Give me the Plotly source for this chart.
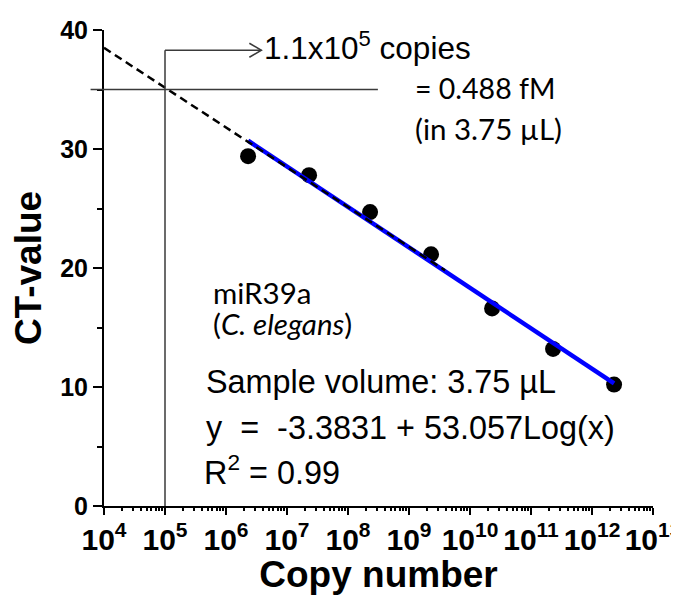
import math
import plotly.graph_objects as go

# ---- data ----
copies = [2.3e6, 2.3e7, 2.3e8, 2.3e9, 2.3e10, 2.3e11, 2.3e12]
ct_values = [29.4, 27.8, 24.7, 21.15, 16.6, 13.2, 10.2]
fit_copies = [2.3e6, 2.3e12]
fit_ct = [30.7, 10.3]
extrap_copies = [1e4, 3.9e9]
extrap_ct = [38.5, 19.8]
lod_copies = 1.0e5
lod_ct = 35.0
guide_top_ct = 38.3
arrow_tip_copies = 3.8e6
hline_copies = [10 ** 3.78, 10 ** 8.49]
y_tick_values = [0, 10, 20, 30, 40]

X_RANGE = [4, 13]
Y_RANGE = [0, 40]

PAGE = 8  # default body margin of the page
W, H = 679 - PAGE, 603 - 2 * PAGE
ML, MR, MT, MB = 96, 26, 22, 89
PW, PH = W - ML - MR, H - MT - MB


def fx(v):
    return (math.log10(v) - X_RANGE[0]) / (X_RANGE[1] - X_RANGE[0])


def fy(v):
    return (v - Y_RANGE[0]) / (Y_RANGE[1] - Y_RANGE[0])


def px(x):
    return (x - PAGE - ML) / PW


def py(y):
    return (H - MB - (y - PAGE)) / PH


fig = go.Figure()
fig.add_trace(go.Scatter(x=copies, y=ct_values, mode="markers",
                         marker=dict(color="black", size=16), showlegend=False))
fig.add_trace(go.Scatter(x=fit_copies, y=fit_ct, mode="lines",
                         line=dict(color="#0000ff", width=4.5), showlegend=False))
fig.add_trace(go.Scatter(x=extrap_copies, y=extrap_ct, mode="lines",
                         line=dict(color="black", width=2.5, dash="8px,5px"), showlegend=False))

gl = dict(color="#3a3a3a", width=1.5)
shapes = [
    dict(type="line", xref="x domain", yref="y domain",
         x0=fx(lod_copies), x1=fx(lod_copies), y0=fy(0), y1=fy(guide_top_ct), line=gl),
    dict(type="line", xref="x domain", yref="y domain",
         x0=fx(lod_copies), x1=fx(arrow_tip_copies), y0=fy(guide_top_ct), y1=fy(guide_top_ct), line=gl),
    dict(type="line", xref="x domain", yref="y domain",
         x0=fx(hline_copies[0]), x1=fx(hline_copies[1]), y0=fy(lod_ct), y1=fy(lod_ct), line=gl),
]
tipx, tipy = fx(arrow_tip_copies), fy(guide_top_ct)
dx, dy = 12 / PW, 7 / PH
shapes.append(dict(type="path", xref="x domain", yref="y domain",
                   path=f"M {tipx-dx} {tipy+dy} L {tipx} {tipy} L {tipx-dx} {tipy-dy}",
                   line=gl))

ARIAL = "Liberation Sans, Arial, sans-serif"
CAL = "Lato, Carlito, sans-serif"
texts = [
    ("1.1x10<sup>5</sup> copies", 262, 46, ARIAL, 31.5),
    ("= 0.488 fM", 413, 88, CAL, 28.5),
    ("(in 3.75 µL)", 413, 128, CAL, 29.5),
    ("miR39a", 211, 292, CAL, 29.5),
    ("(<i>C. elegans</i>)", 211, 323, CAL, 29.5),
    ("Sample volume: 3.75 µL", 204, 382, ARIAL, 32.4),
    ("y  =  -3.3831 + 53.057Log(x)", 204, 428, ARIAL, 32.4),
    ("R<sup>2</sup> = 0.99", 202, 470, ARIAL, 32.4),
]
annotations = [
    dict(text=t, x=px(x), y=py(y), xref="paper", yref="paper", xanchor="left",
         yanchor="middle", showarrow=False, font=dict(family=f, size=s, color="black"))
    for t, x, y, f, s in texts
]

fig.update_layout(
    width=W, height=H,
    margin=dict(l=ML, r=MR, t=MT, b=MB, autoexpand=False),
    paper_bgcolor="white", plot_bgcolor="white",
    shapes=shapes, annotations=annotations,
    font=dict(family=ARIAL, color="black"),
)
fig.update_xaxes(
    type="log", range=X_RANGE, dtick=1, exponentformat="power", tickangle=0,
    automargin=False, ticklabeloverflow="allow",
    showgrid=False, zeroline=False, showline=True, linecolor="black", linewidth=2,
    ticks="outside", ticklen=7, tickwidth=2, tickcolor="black",
    minor=dict(ticks="outside", ticklen=3, tickwidth=1.5, tickcolor="black", dtick="D1", showgrid=False),
    tickfont=dict(family=ARIAL, size=24, weight="bold"),
    title=dict(text="Copy number", font=dict(family=ARIAL, size=37, weight="bold"), standoff=7),
)
fig.update_yaxes(
    range=Y_RANGE, tickvals=y_tick_values, automargin=False,
    showgrid=False, zeroline=False, showline=True, linecolor="black", linewidth=2,
    ticks="outside", ticklen=9, tickwidth=2, tickcolor="black",
    minor=dict(ticks="outside", ticklen=5, tickwidth=2, tickcolor="black", dtick=5, showgrid=False),
    tickfont=dict(family=ARIAL, size=25, weight="bold"),
    title=dict(text="CT-value", font=dict(family=ARIAL, size=37, weight="bold"), standoff=12),
)

fig.write_html("out.html", post_script="document.documentElement.style.overflow='hidden';"
                                       "document.body.style.overflow='hidden';")
